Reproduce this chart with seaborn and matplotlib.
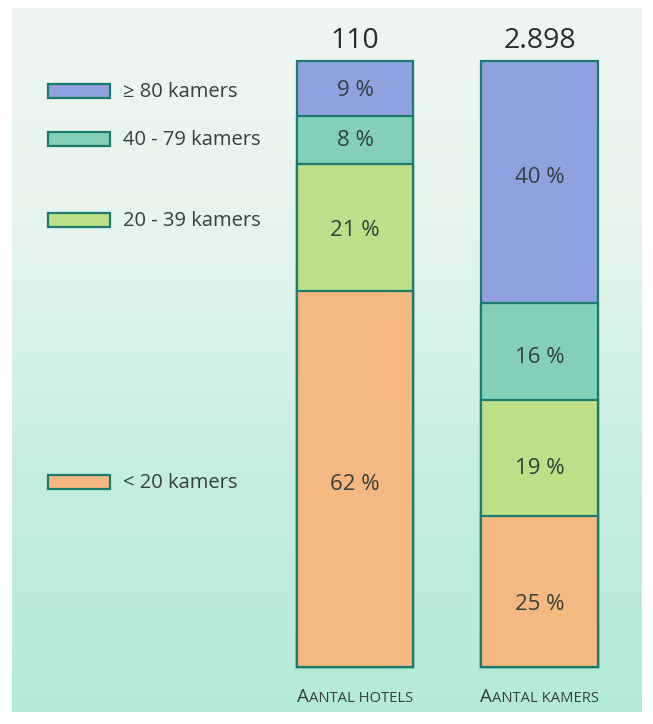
import numpy as np
import pandas as pd
import matplotlib
matplotlib.use("Agg")
import matplotlib.pyplot as plt
import seaborn as sns
from matplotlib.patches import Rectangle
from matplotlib.colors import LinearSegmentedColormap

# ---- data ----
categories = ["< 20 kamers", "20 - 39 kamers", "40 - 79 kamers", "\u2265 80 kamers"]
bars = ["Aantal hotels", "Aantal kamers"]
totals = ["110", "2.898"]
hotels_pct = [62, 21, 8, 9]
kamers_pct = [25, 19, 16, 40]
colors = ["#f5b880", "#bcdf88", "#82cfba", "#8fa1de"]

# label placement nudges in pixels (style only), positive = down
hotels_nudge = [5, 3, 1, 2]
kamers_nudge = [13, 11, 6, -5]

sns.set_theme(style="white")
plt.rcParams["font.family"] = ["Open Sans", "DejaVu Sans"]

W, H = 653, 724
fig = plt.figure(figsize=(W / 100, H / 100), dpi=100)
fig.patch.set_facecolor("white")

# background panel gradient
bg = fig.add_axes([12 / W, 1 - 712 / H, (642 - 12) / W, (712 - 8) / H])
cmap = LinearSegmentedColormap.from_list("bg", ["#f1f5f1", "#e4f4ec", "#c4eedf", "#b4ebd7"])
grad = np.linspace(0, 1, 256).reshape(-1, 1)
bg.imshow(grad, aspect="auto", cmap=cmap, extent=[0, 1, 1, 0])
bg.set_axis_off()

# main axes spanning whole figure, mapped to pixel geometry
ax = fig.add_axes([0, 0, 1, 1])
ax.patch.set_alpha(0)
c0, unit = 355.0, 184.5
y0px, pxu = 667.0, 6.06

df = pd.DataFrame({"bar": bars * 4,
                   "cat": np.repeat(categories, 2),
                   "pct": [v for pair in zip(hotels_pct, kamers_pct) for v in pair],
                   "nudge": [v for pair in zip(hotels_nudge, kamers_nudge) for v in pair]})
df["cum"] = df.groupby("bar")["pct"].cumsum()

edge = "#1b7b6f"
textc = "#33403d"
for i in reversed(range(len(categories))):
    sub = df[df["cat"] == categories[i]]
    sns.barplot(data=sub, x="bar", y="cum", order=bars, color=colors[i],
                saturation=1, width=0.632, edgecolor=edge, linewidth=1.6, ax=ax)

ax.set_xlim(-c0 / unit, (W - c0) / unit)
ax.set_ylim(-(H - y0px) / pxu, y0px / pxu)
ax.set_axis_off()

def px(x):
    return (x - c0) / unit

def py(y):
    return (y0px - y) / pxu

# percent labels
for _, r in df.iterrows():
    xi = bars.index(r["bar"])
    yc = r["cum"] - r["pct"] / 2 - r["nudge"] / pxu
    ax.text(xi, yc, f"{r['pct']} %", ha="center", va="center", fontsize=16, color=textc)

# totals above bars
for xi, t in enumerate(totals):
    ax.text(xi, py(41), t, ha="center", va="center", fontsize=20.5, color="#262f2d")

# legend drawn manually
leg_y = [482, 220, 139, 91]
for i, cat in enumerate(categories):
    yc = leg_y[i]
    ax.add_patch(Rectangle((px(48), py(yc + 7)), 62 / unit, 14 / pxu,
                           facecolor=colors[i], edgecolor=edge, linewidth=1.6))
    ax.text(px(123), py(yc + 1), cat, ha="left", va="center",
            fontsize=14.5, color=textc)

# bottom labels in small caps style
fig.canvas.draw()
renderer = fig.canvas.get_renderer()
for xi, b in enumerate(bars):
    words = b.split()
    big = words[0][0]
    small = (words[0][1:] + " " + " ".join(words[1:])).upper()
    tb = ax.text(0, py(702), big, fontsize=13.5, color=textc, va="baseline")
    ts = ax.text(0, py(702), small, fontsize=10.6, color=textc, va="baseline")
    wb = tb.get_window_extent(renderer).width
    ws = ts.get_window_extent(renderer).width
    cx_px = c0 + xi * unit
    left_px = cx_px - (wb + ws) / 2
    tb.set_x(px(left_px))
    ts.set_x(px(left_px + wb))

fig.savefig("out.png", dpi=100)
